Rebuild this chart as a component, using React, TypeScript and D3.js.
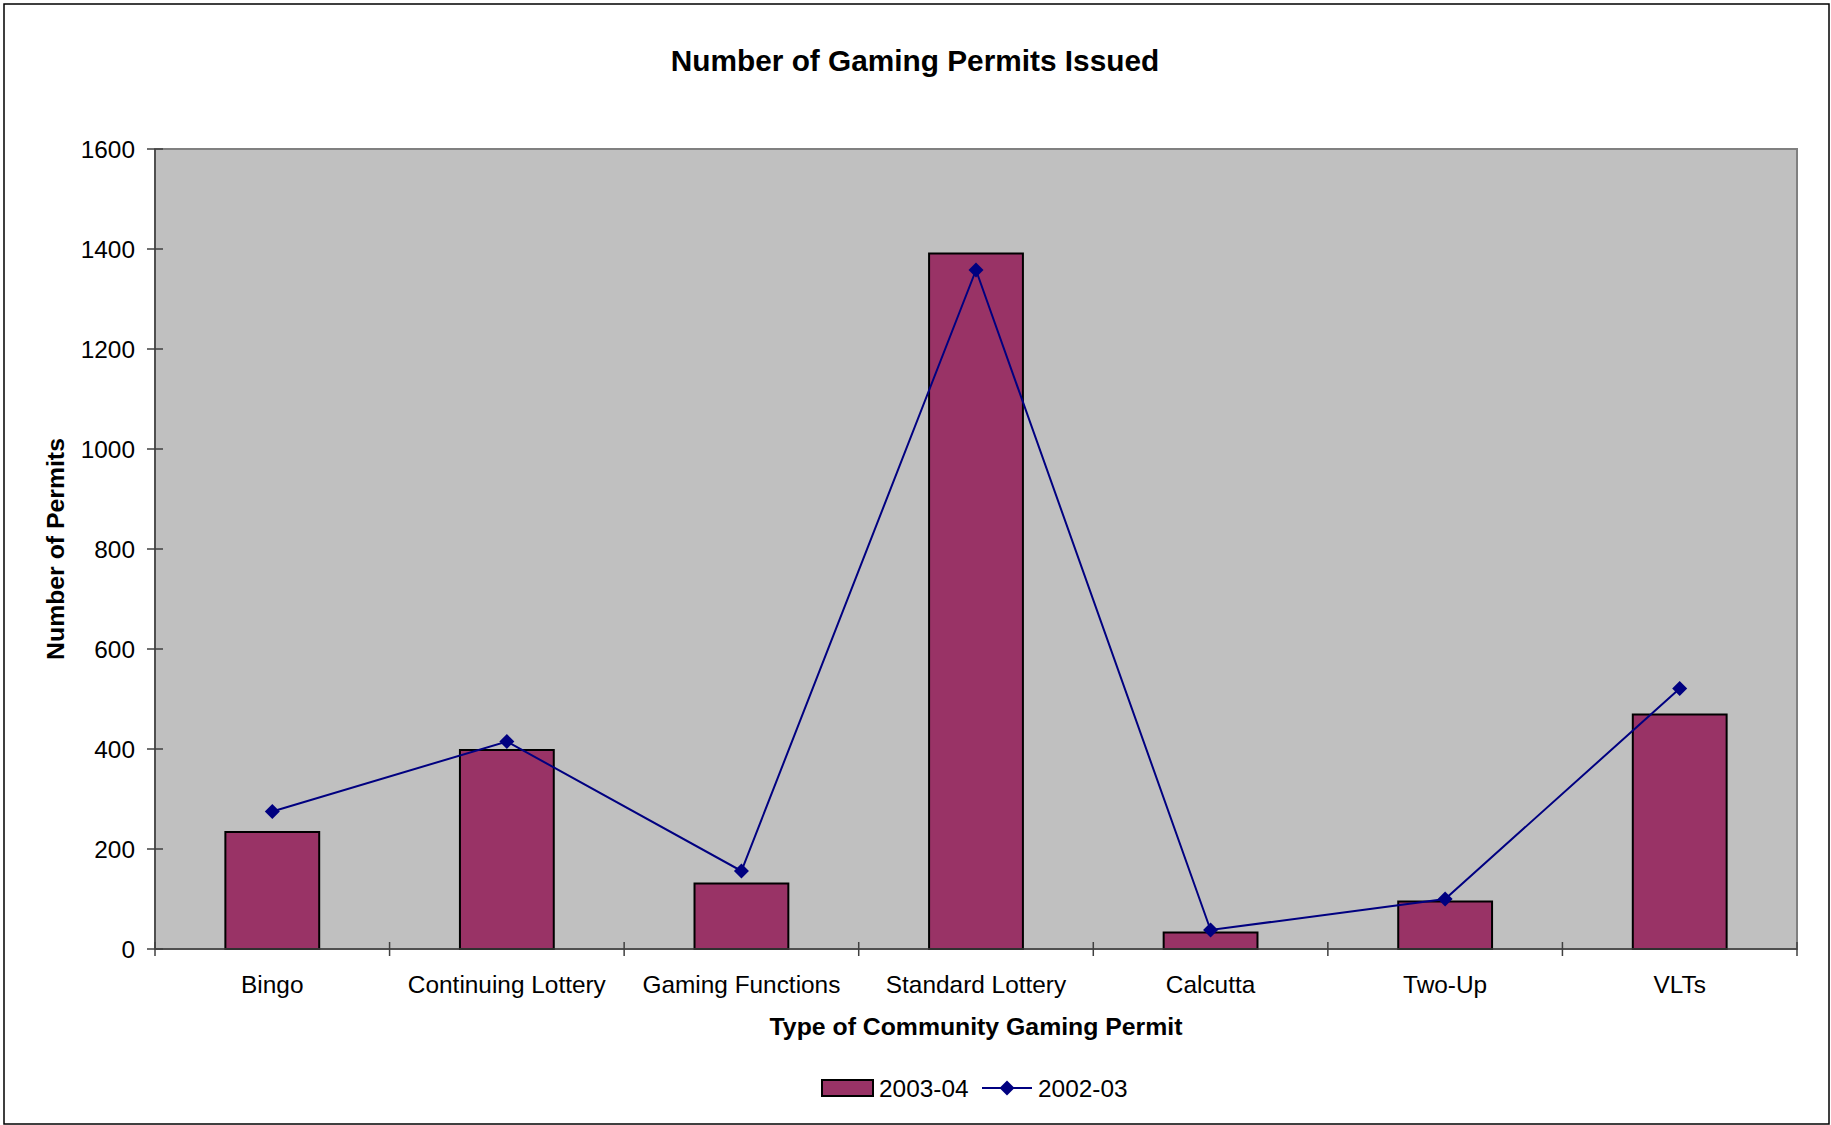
import React from "react";
import * as d3 from "d3";

const categories = ["Bingo", "Continuing Lottery", "Gaming Functions", "Standard Lottery", "Calcutta", "Two-Up", "VLTs"];
const permits2003_04 = [234, 398, 131, 1391, 33, 95, 469];
const permits2002_03 = [275, 415, 156, 1358, 38, 100, 521];
const yTicks = [0, 200, 400, 600, 800, 1000, 1200, 1400, 1600];

const W = 1831;
const H = 1125;
const plot = { left: 155, right: 1797, top: 149, bottom: 949 };
const FONT = "'Liberation Sans', Arial, sans-serif";

export default function App() {
  const x = d3
    .scaleBand<string>()
    .domain(categories)
    .range([plot.left, plot.right])
    .paddingInner(0.6)
    .paddingOuter(0.3);
  const step = (plot.right - plot.left) / categories.length;
  const y = d3.scaleLinear().domain([0, 1600]).range([plot.bottom, plot.top]);
  const cx = (c: string) => (x(c) as number) + x.bandwidth() / 2;
  const line = d3
    .line<number>()
    .x((_, i) => cx(categories[i]))
    .y((d) => y(d));
  const diamond = (px: number, py: number, r = 7.5) =>
    `M${px},${py - r}L${px + r},${py}L${px},${py + r}L${px - r},${py}Z`;

  return (
    <svg
      width={W}
      height={H}
      style={{ position: "absolute", left: 0, top: 0, display: "block" }}
      fontFamily={FONT}
    >
      <rect x={0} y={0} width={W} height={H} fill="#fff" />
      <rect x={4} y={4} width={1825} height={1120} fill="none" stroke="#000" strokeWidth={1.5} />
      <text x={915} y={71} textAnchor="middle" fontSize={29.8} fontWeight="bold">
        Number of Gaming Permits Issued
      </text>

      {/* plot area */}
      <rect
        x={plot.left}
        y={plot.top}
        width={plot.right - plot.left}
        height={plot.bottom - plot.top}
        fill="#C0C0C0"
        stroke="#808080"
        strokeWidth={2}
      />

      {/* bars */}
      {categories.map((c, i) => (
        <rect
          key={c}
          x={x(c)}
          y={y(permits2003_04[i])}
          width={x.bandwidth()}
          height={y(0) - y(permits2003_04[i])}
          fill="#993366"
          stroke="#000"
          strokeWidth={2}
        />
      ))}

      {/* axes */}
      <line x1={plot.left} x2={plot.left} y1={plot.top} y2={plot.bottom} stroke="#404040" strokeWidth={1.5} />
      <line x1={plot.left} x2={plot.right} y1={plot.bottom} y2={plot.bottom} stroke="#404040" strokeWidth={1.5} />
      {yTicks.map((t) => (
        <g key={t}>
          <line x1={plot.left - 8} x2={plot.left + 8} y1={y(t)} y2={y(t)} stroke="#404040" strokeWidth={1.5} />
          <text x={135} y={y(t)} dy="0.35em" textAnchor="end" fontSize={24.4}>
            {t}
          </text>
        </g>
      ))}
      {d3.range(categories.length + 1).map((i) => (
        <line
          key={i}
          x1={plot.left + i * step}
          x2={plot.left + i * step}
          y1={plot.bottom - 7}
          y2={plot.bottom + 7}
          stroke="#404040"
          strokeWidth={1.5}
        />
      ))}
      {categories.map((c) => (
        <text key={c} x={cx(c)} y={993} textAnchor="middle" fontSize={24.4}>
          {c}
        </text>
      ))}

      {/* line series */}
      <path d={line(permits2002_03) || ""} fill="none" stroke="#000080" strokeWidth={2} />
      {permits2002_03.map((v, i) => (
        <path key={i} d={diamond(cx(categories[i]), y(v))} fill="#000080" />
      ))}

      {/* axis titles */}
      <text x={976} y={1035} textAnchor="middle" fontSize={24.8} fontWeight="bold">
        Type of Community Gaming Permit
      </text>
      <text
        transform={`translate(64,${(plot.top + plot.bottom) / 2}) rotate(-90)`}
        textAnchor="middle"
        fontSize={24.8}
        fontWeight="bold"
      >
        Number of Permits
      </text>

      {/* legend */}
      <rect x={822} y={1080} width={51} height={16} fill="#993366" stroke="#000" strokeWidth={2} />
      <text x={879} y={1097} fontSize={24.4}>
        2003-04
      </text>
      <line x1={982} x2={1032} y1={1088} y2={1088} stroke="#000080" strokeWidth={2} />
      <path d={diamond(1007, 1088)} fill="#000080" />
      <text x={1038} y={1097} fontSize={24.4}>
        2002-03
      </text>
    </svg>
  );
}
